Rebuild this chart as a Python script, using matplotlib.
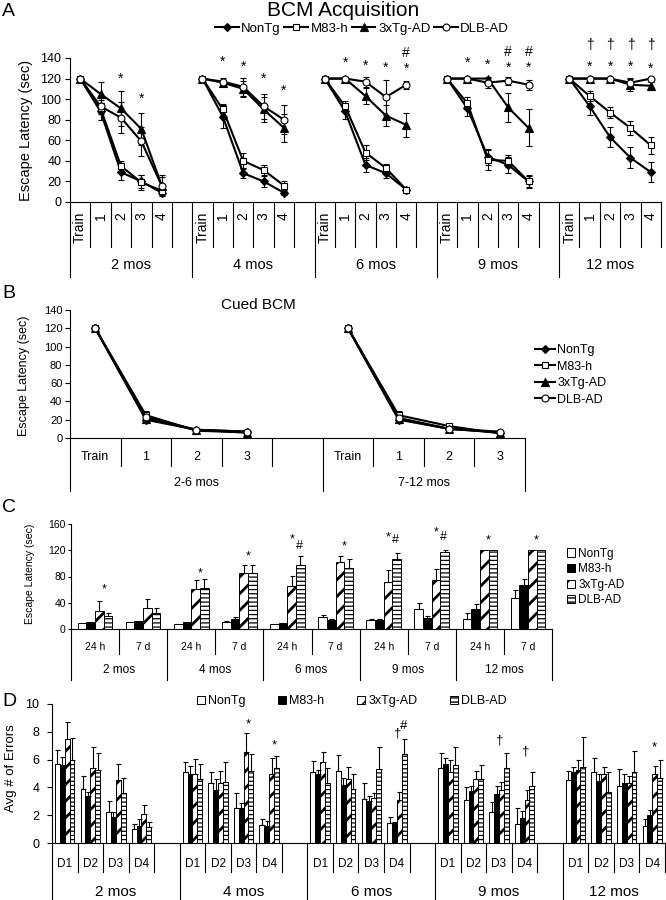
import matplotlib
matplotlib.use('Agg')
import matplotlib.pyplot as plt
from matplotlib.lines import Line2D
from matplotlib.patches import Patch
import numpy as np

plt.rcParams['font.family'] = ['Liberation Sans', 'DejaVu Sans']
plt.rcParams['hatch.linewidth'] = 1.0

W, H = 666, 900

genotypes = ['NonTg', 'M83-h', '3xTg-AD', 'DLB-AD']
ages = ['2 mos', '4 mos', '6 mos', '9 mos', '12 mos']

# ---- A: BCM acquisition (per age: Train, day 1-4) ----
a_days = ['Train', '1', '2', '3', '4']
a_nontg = [[120, 88, 29, 20, 9], [120, 83, 28, 20, 9], [120, 88, 36, 28, 12],
           [120, 91, 44, 36, 20], [120, 93, 63, 43, 29]]
a_nontg_err = [[0, 8, 8, 6, 2], [0, 11, 5, 5, 2], [0, 7, 7, 5, 3],
               [0, 7, 8, 8, 5], [0, 8, 10, 10, 10]]
a_m83 = [[120, 91, 35, 19, 11], [120, 90, 40, 31, 16], [120, 93, 48, 33, 12],
         [120, 96, 41, 40, 20], [120, 103, 87, 72, 55]]
a_m83_err = [[0, 5, 5, 7, 3], [0, 5, 8, 5, 4], [0, 5, 7, 4, 3],
             [0, 6, 10, 6, 6], [0, 5, 5, 7, 8]]
a_3xtg = [[120, 105, 91, 71, 16], [120, 116, 110, 90, 72], [120, 120, 103, 84, 75],
          [120, 120, 120, 92, 72], [120, 120, 120, 114, 113]]
a_3xtg_err = [[0, 12, 17, 16, 10], [0, 3, 8, 12, 14], [0, 0, 8, 10, 12],
              [0, 0, 2, 14, 18], [0, 0, 0, 6, 4]]
a_dlb = [[120, 93, 82, 59, 16], [120, 117, 112, 93, 80], [120, 120, 117, 102, 114],
         [120, 120, 116, 118, 114], [120, 120, 120, 116, 120]]
a_dlb_err = [[0, 6, 15, 14, 8], [0, 4, 9, 12, 14], [0, 0, 5, 17, 4],
             [0, 0, 5, 4, 5], [0, 0, 0, 5, 2]]
# (age index, day index, y, symbol)
a_marks = [(0, 2, 123, '*'), (0, 3, 104, '*'),
           (1, 1, 140, '*'), (1, 2, 135, '*'), (1, 3, 123, '*'), (1, 4, 112, '*'),
           (2, 1, 139, '*'), (2, 2, 136, '*'), (2, 3, 134, '*'), (2, 4, 133, '*'), (2, 4, 146, '#'),
           (3, 1, 139, '*'), (3, 2, 137, '*'), (3, 3, 134, '*'), (3, 3, 147, '#'),
           (3, 4, 134, '*'), (3, 4, 147, '#'),
           (4, 1, 135, '*'), (4, 2, 135, '*'), (4, 3, 135, '*'), (4, 4, 133, '*'),
           (4, 1, 153, '†'), (4, 2, 153, '†'), (4, 3, 153, '†'), (4, 4, 153, '†')]

# ---- B: cued BCM ----
b_days = ['Train', '1', '2', '3']
b_groups = ['2-6 mos', '7-12 mos']
b_nontg = [[120, 20, 9, 7], [120, 20, 10, 6]]
b_m83 = [[120, 25, 8, 6], [120, 25, 13, 5]]
b_3xtg = [[120, 21, 9, 6], [120, 21, 10, 6]]
b_dlb = [[120, 23, 9, 7], [120, 22, 10, 7]]
b_err = [[0, 4, 1, 1], [0, 4, 2, 1]]

# ---- C: probe trials (24 h, 7 d per age) ----
c_probe = ['24 h', '7 d']
c_nontg = [9, 10, 7, 11, 7, 18, 14, 31, 16, 47]
c_nontg_err = [0, 0, 0, 1, 0, 3, 1, 8, 9, 12]
c_m83 = [10, 12, 10, 15, 9, 14, 14, 17, 31, 67]
c_m83_err = [0, 0, 0, 3, 0, 2, 2, 3, 7, 9]
c_3xtg = [28, 32, 61, 86, 66, 102, 71, 74, 120, 120]
c_3xtg_err = [14, 14, 14, 12, 15, 10, 19, 18, 0, 0]
c_dlb = [20, 25, 62, 85, 97, 93, 106, 118, 120, 120]
c_dlb_err = [4, 7, 14, 12, 14, 14, 10, 2, 0, 0]
# (slot, offset in bar widths, y, symbol)
c_marks = [(0, 1.0, 66, '*'), (2, 1.0, 91, '*'), (3, 1.0, 116, '*'),
           (4, 0.5, 143, '*'), (4, 1.4, 128, '#'), (5, 1.0, 131, '*'),
           (6, 0.5, 146, '*'), (6, 1.4, 137, '#'), (7, 0.5, 153, '*'), (7, 1.4, 143, '#'),
           (8, 1.0, 141, '*'), (9, 1.0, 141, '*')]

# ---- D: errors per day ----
d_days = ['D1', 'D2', 'D3', 'D4']
d_nontg = [[5.7, 3.85, 2.2, 1.0], [5.1, 4.35, 2.5, 1.3], [5.1, 5.2, 3.2, 1.45],
           [5.4, 3.1, 2.2, 1.4], [4.5, 5.1, 4.1, 1.2]]
d_nontg_err = [[1.0, 1.0, 0.8, 0.4], [0.7, 0.75, 1.1, 0.45], [0.8, 1.15, 1.15, 0.4],
               [1.1, 0.95, 0.75, 1.1], [0.65, 1.0, 1.2, 0.55]]
d_m83 = [[5.6, 3.4, 1.9, 1.2], [4.95, 3.8, 2.5, 1.25], [4.95, 4.2, 3.05, 1.45],
         [5.65, 3.75, 3.55, 1.8], [5.1, 4.45, 4.3, 2.0]]
d_m83_err = [[0.6, 0.3, 0.3, 0.55], [0.6, 0.8, 0.35, 0.35], [0.3, 0.45, 0.3, 0.05],
             [0.45, 0.35, 0.55, 0.5], [0.4, 0.55, 0.7, 0.4]]
d_3xtg = [[7.5, 5.4, 4.5, 2.1], [4.95, 4.3, 6.55, 4.95], [5.85, 4.6, 3.25, 3.1],
          [5.1, 4.6, 3.8, 3.1], [5.25, 5.0, 4.3, 4.95]]
d_3xtg_err = [[1.2, 1.5, 1.2, 0.65], [1.1, 0.85, 1.35, 1.2], [0.7, 0.85, 0.35, 0.6],
              [0.9, 0.6, 0.6, 0.7], [0.75, 0.5, 0.55, 0.6]]
d_dlb = [[6.0, 5.25, 3.6, 1.15], [4.6, 4.4, 5.2, 5.4], [4.3, 3.9, 5.3, 6.4],
         [5.6, 4.6, 5.4, 4.1], [5.5, 3.65, 5.1, 4.7]]
d_dlb_err = [[1.55, 1.2, 1.1, 0.35], [1.1, 1.4, 1.2, 0.85], [1.1, 1.1, 1.6, 1.1],
             [1.3, 1.0, 1.1, 1.0], [2.1, 1.45, 1.55, 1.3]]
# (age index, day index, offset in bar widths, y, symbol)
d_marks = [(1, 2, 1.0, 8.85, '*'), (1, 3, 1.0, 7.3, '*'),
           (2, 3, 0.0, 7.95, '†'), (2, 3, 1.5, 8.5, '#'),
           (3, 2, 0.0, 7.45, '†'), (3, 3, 0.0, 6.65, '†'),
           (4, 3, 0.4, 7.2, '*')]

line_styles = [dict(marker='D', mfc='k', ms=4.5), dict(marker='s', mfc='w', ms=5),
               dict(marker='^', mfc='k', ms=5.5), dict(marker='o', mfc='w', ms=5)]
bar_styles = [dict(color='w', hatch=None, hlw=1.0), dict(color='k', hatch=None, hlw=1.0),
              dict(color='w', hatch='//', hlw=2.0), dict(color='w', hatch='----', hlw=0.9)]
# glyph centre above the baseline, in em
glyph_mid = {'*': 0.55, '#': 0.35, '†': 0.30}


def rect(l, t, r, b):
    return [l / W, 1 - b / H, (r - l) / W, (b - t) / H]


def style_axes(ax, labelsize, pad, length):
    for s in ['top', 'right']:
        ax.spines[s].set_visible(False)
    for s in ['left', 'bottom']:
        ax.spines[s].set_linewidth(0.8)
    ax.set_xticks([])
    ax.tick_params(axis='y', direction='out', length=length, width=0.8,
                   labelsize=labelsize, pad=pad)


def vlines(ax, xs, ybot):
    tr = ax.get_xaxis_transform()
    for x in xs:
        ax.plot([x, x], [0, ybot], transform=tr, color='k', lw=0.8, clip_on=False)


def mark(ax, x, y, sym, fs):
    ax.annotate(sym, (x, y), xytext=(0, -glyph_mid[sym] * fs), textcoords='offset points',
                ha='center', va='baseline', fontsize=fs, annotation_clip=False)


def hatched_bars(ax, xs, vals, w, st):
    with plt.rc_context({'hatch.linewidth': st['hlw']}):
        bars = ax.bar(xs, vals, w, color=st['color'], edgecolor='k', hatch=st['hatch'], lw=0.7)
    for b in bars:
        if hasattr(b, 'set_hatch_linewidth'):
            b.set_hatch_linewidth(st['hlw'])
    return bars


fig = plt.figure(figsize=(W / 100, H / 100), dpi=100)

# ================= A =================
axA = fig.add_axes(rect(70, 58, 661, 202))
style_axes(axA, 9, 2.5, 3.6)
axA.set_ylim(0, 140)
axA.set_yticks(range(0, 141, 20))
axA.set_xlim(-0.5, 28.5)
a_series = [(a_nontg, a_nontg_err), (a_m83, a_m83_err), (a_3xtg, a_3xtg_err), (a_dlb, a_dlb_err)]
for g in range(len(ages)):
    xs = np.arange(len(a_days)) + g * 6
    for (vals, errs), st in zip(a_series, line_styles):
        axA.errorbar(xs, vals[g], yerr=errs[g], color='k', lw=1.5, mec='k', mew=0.8,
                     elinewidth=0.8, capsize=2, capthick=0.8, clip_on=False, **st)
    for k, lab in enumerate(a_days):
        axA.text(g * 6 + k, -0.07, lab, rotation=90, ha='center', va='top', fontsize=10,
                 transform=axA.get_xaxis_transform())
    axA.text(g * 6 + (2.5 if g < 4 else 2.0), -0.44, ages[g], ha='center', va='center',
             fontsize=10.5, transform=axA.get_xaxis_transform())
short = [g * 6 + k - 0.5 for g in range(5) for k in range(1, 6)]
short = [x for x in short if x < 28.5] + [28.5]
vlines(axA, short, -0.3125)
vlines(axA, [g * 6 - 0.5 for g in range(5)], -0.52)
for g, k, y, s in a_marks:
    mark(axA, g * 6 + k, y, s, 10)
fig.text(26 / W, 1 - 130 / H, 'Escape Latency (sec)', rotation=90, ha='center', va='center',
         fontsize=10.5)
fig.text(343 / W, 1 - 11 / H, 'BCM Acquisition', ha='center', va='center', fontsize=15)
handles = [Line2D([], [], color='k', lw=1.5, mec='k', mew=0.8, **st) for st in line_styles]
fig.legend(handles, genotypes, loc='center', bbox_to_anchor=(362 / W, 1 - 29 / H), ncol=4,
           frameon=False, fontsize=9.5, handlelength=1.8, handletextpad=0.2,
           columnspacing=0.25, borderpad=0, borderaxespad=0)

# ================= B =================
axB = fig.add_axes(rect(70, 310, 525, 438))
style_axes(axB, 8, 2.0, 3.5)
axB.set_ylim(0, 140)
axB.set_yticks(range(0, 141, 20))
axB.set_xlim(-0.5, 8.5)
b_series = [b_nontg, b_m83, b_3xtg, b_dlb]
for g in range(len(b_groups)):
    xs = np.arange(len(b_days)) + g * 5
    for vals, st in zip(b_series, line_styles):
        axB.errorbar(xs, vals[g], yerr=b_err[g], color='k', lw=1.5, mec='k', mew=0.8,
                     elinewidth=0.8, capsize=2, capthick=0.8, clip_on=False, **st)
    for k, lab in enumerate(b_days):
        axB.text(g * 5 + k, -0.147, lab, ha='center', va='center', fontsize=9,
                 transform=axB.get_xaxis_transform())
    axB.text(g * 5 + (2.0 if g == 0 else 1.5), -0.35, b_groups[g], ha='center', va='center',
             fontsize=9, transform=axB.get_xaxis_transform())
vlines(axB, [0.5, 1.5, 2.5, 3.5, 5.5, 6.5, 7.5], -0.217)
vlines(axB, [-0.5, 4.5, 8.5], -0.411)
fig.text(24 / W, 1 - 376 / H, 'Escape Latency (sec)', rotation=90, ha='center', va='center',
         fontsize=9)
fig.text(258 / W, 1 - 305 / H, 'Cued BCM', ha='center', va='center', fontsize=11)
fig.legend(handles, genotypes, loc='center left', bbox_to_anchor=(535 / W, 1 - 375 / H),
           frameon=False, fontsize=9, handlelength=1.6, handletextpad=0.2,
           labelspacing=0.35, borderpad=0, borderaxespad=0)

# ================= C =================
axC = fig.add_axes(rect(71, 524, 552, 629))
style_axes(axC, 7.5, 1.2, 2.5)
axC.set_ylim(0, 160)
axC.set_yticks(range(0, 161, 40))
axC.set_xlim(-0.5, 9.5)
wc = 0.18
slots = np.arange(10)
c_series = [(c_nontg, c_nontg_err), (c_m83, c_m83_err), (c_3xtg, c_3xtg_err), (c_dlb, c_dlb_err)]
for i, ((vals, errs), st) in enumerate(zip(c_series, bar_styles)):
    xs = slots + (i - 1.5) * wc
    hatched_bars(axC, xs, vals, wc, st)
    errs = np.array(errs, float)
    m = errs > 0
    axC.errorbar(xs[m], np.array(vals)[m], yerr=[np.zeros(m.sum()), errs[m]], fmt='none',
                 ecolor='k', elinewidth=0.8, capsize=1.8, capthick=0.8)
for s in slots:
    axC.text(s, -0.171, c_probe[s % 2], ha='center', va='center', fontsize=7.5,
             transform=axC.get_xaxis_transform())
for g in range(5):
    axC.text(g * 2 + 0.5, -0.39, ages[g], ha='center', va='center', fontsize=8.5,
             transform=axC.get_xaxis_transform())
vlines(axC, [g * 2 + 0.5 for g in range(5)], -0.238)
vlines(axC, [g * 2 - 0.5 for g in range(6)], -0.486)
for s, off, y, sym in c_marks:
    mark(axC, s + off * wc, y, sym, 9)
fig.text(30 / W, 1 - 574 / H, 'Escape Latency (sec)', rotation=90, ha='center', va='center',
         fontsize=7.5)
with plt.rc_context({'hatch.linewidth': 1.3}):
    phandles = [Patch(facecolor=st['color'], edgecolor='k', hatch=st['hatch'], lw=0.7)
                for st in bar_styles]
fig.legend(phandles, genotypes, loc='center left', bbox_to_anchor=(567 / W, 1 - 577 / H),
           frameon=False, fontsize=8.5, handlelength=0.7, handleheight=0.7,
           handletextpad=0.25, labelspacing=0.3, borderpad=0, borderaxespad=0)

# ================= D =================
axD = fig.add_axes(rect(52, 704, 665, 843))
style_axes(axD, 9, 5.5, 3.5)
axD.set_ylim(0, 10)
axD.set_yticks(range(0, 11, 2))
axD.set_xlim(-0.5, 23.5)
wd = 0.19
d_series = [(d_nontg, d_nontg_err), (d_m83, d_m83_err), (d_3xtg, d_3xtg_err), (d_dlb, d_dlb_err)]
dslots = np.array([g * 5 + k for g in range(5) for k in range(4)])
for i, ((vals, errs), st) in enumerate(zip(d_series, bar_styles)):
    xs = dslots + (i - 1.5) * wd
    v = np.array(vals).ravel()
    e = np.array(errs).ravel()
    hatched_bars(axD, xs, v, wd, st)
    axD.errorbar(xs, v, yerr=[np.zeros_like(e), e], fmt='none', ecolor='k',
                 elinewidth=0.8, capsize=1.8, capthick=0.8)
for g in range(5):
    for k, lab in enumerate(d_days):
        axD.text(g * 5 + k, -0.151, lab, ha='center', va='center', fontsize=8.5,
                 transform=axD.get_xaxis_transform())
    axD.text(g * 5 + (2.0 if g < 4 else 1.5), -0.353, ages[g], ha='center', va='center',
             fontsize=11, transform=axD.get_xaxis_transform())
vlines(axD, [g * 5 + k + 0.5 for g in range(5) for k in range(4)], -0.209)
vlines(axD, [g * 5 - 0.5 for g in range(5)], -0.41)
for g, k, off, y, sym in d_marks:
    mark(axD, g * 5 + k + off * wd, y, sym, 9.5)
fig.text(11 / W, 1 - 768 / H, 'Avg # of Errors', rotation=90, ha='center', va='center',
         fontsize=9.5)
fig.legend(phandles, genotypes, loc='center left', bbox_to_anchor=(197 / W, 1 - 701 / H),
           ncol=4, frameon=False, fontsize=9, handlelength=0.6, handleheight=0.6,
           handletextpad=0.3, columnspacing=2.6, borderpad=0, borderaxespad=0)

# panel letters
for lab, y in [('A', 11), ('B', 293), ('C', 508), ('D', 702)]:
    fig.text(2 / W, 1 - y / H, lab, ha='left', va='center', fontsize=14)

fig.savefig('out.png', dpi=100)
